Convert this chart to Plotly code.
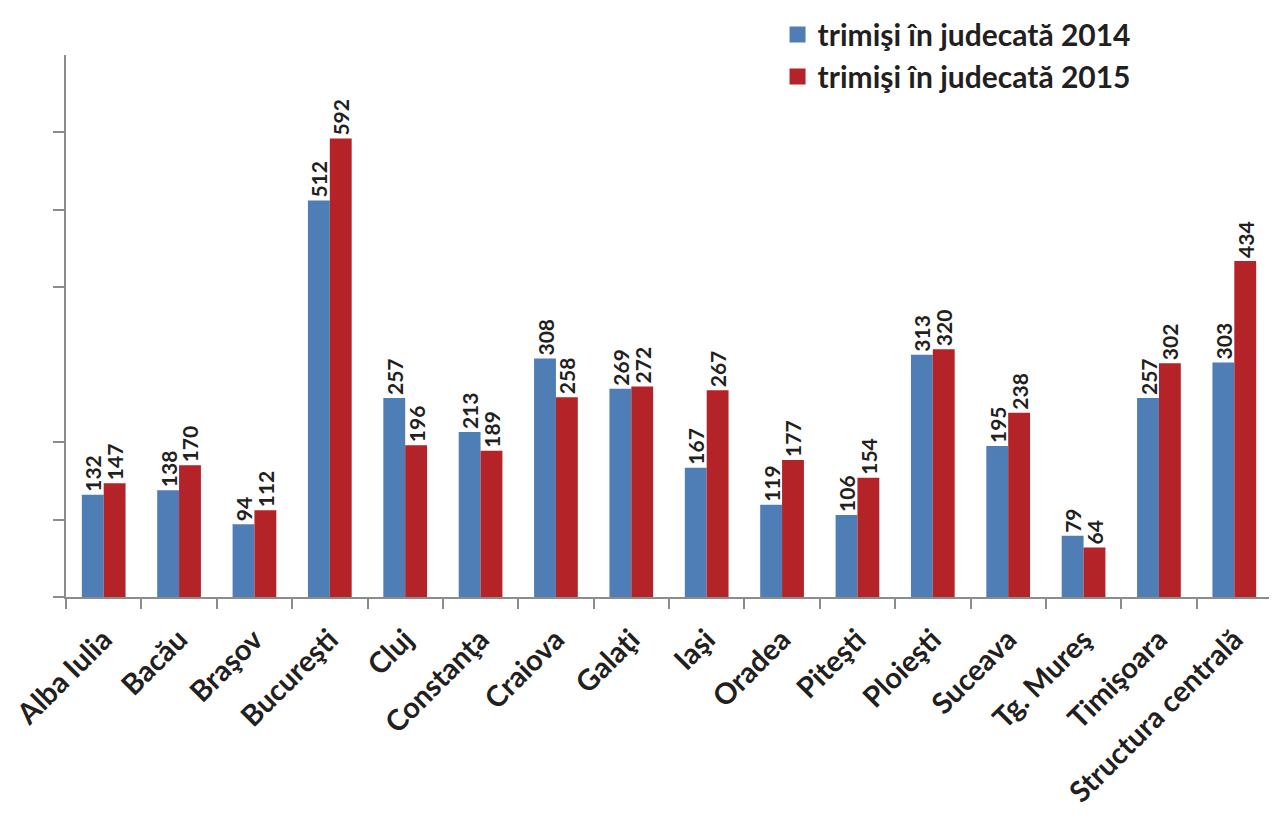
import plotly.graph_objects as go

categories = ["Alba Iulia", "Bacău", "Braşov", "Bucureşti", "Cluj", "Constanţa", "Craiova",
              "Galaţi", "Iaşi", "Oradea", "Piteşti", "Ploieşti", "Suceava", "Tg. Mureş",
              "Timişoara", "Structura centrală"]
values_2014 = [132, 138, 94, 512, 257, 213, 308, 269, 167, 119, 106, 313, 195, 79, 257, 303]
values_2015 = [147, 170, 112, 592, 196, 189, 258, 272, 267, 177, 154, 320, 238, 64, 302, 434]
series_names = ["trimişi în judecată 2014", "trimişi în judecată 2015"]
y_ticks = [0, 100, 200, 400, 500, 600]

FONT = "Lato"
TEXT = "#231f20"
COLORS = ["#4f7db5", "#b42328"]

fig = go.Figure()
for name, vals, color in [(series_names[0], values_2014, COLORS[0]),
                          (series_names[1], values_2015, COLORS[1])]:
    fig.add_trace(go.Bar(
        x=categories, y=vals, name=name, marker=dict(color=color, line=dict(width=0)),
        text=[str(v) for v in vals], textposition="outside", textangle=-90,
        textfont=dict(family=FONT, size=21, color=TEXT, weight="bold"),
        constraintext="none", cliponaxis=False, showlegend=False,
    ))
# legend entries with larger square symbols
for name, color in zip(series_names, COLORS):
    fig.add_trace(go.Scatter(
        x=[None], y=[None], mode="markers", name=name,
        marker=dict(symbol="square", size=20, color=color), showlegend=True,
    ))

# page body has an 8px default margin, so the figure is 8px smaller than the window
fig.update_layout(
    width=1269, height=810,
    barmode="group", bargap=0.42, bargroupgap=0,
    plot_bgcolor="white", paper_bgcolor="white",
    margin=dict(l=58, r=5, t=47, b=221, autoexpand=False),
    font=dict(family=FONT, color=TEXT),
    legend=dict(x=0.59, y=1.086, xanchor="left", yanchor="top",
                font=dict(family=FONT, size=30, color=TEXT, weight="bold"),
                bgcolor="rgba(0,0,0,0)", tracegroupgap=0, itemsizing="trace",
                itemwidth=30),
)
fig.update_xaxes(
    type="category", showline=True, linecolor="#8c8c8c", linewidth=2,
    ticks="outside", tickson="boundaries", ticklen=10, tickcolor="#8c8c8c", tickwidth=2,
    tickangle=-45, tickfont=dict(family=FONT, size=29, color=TEXT, weight="bold"),
    ticklabelstandoff=12, automargin=False,
    showgrid=False, zeroline=False,
)
fig.update_yaxes(
    range=[0, 700], showline=True, linecolor="#8c8c8c", linewidth=2,
    tickvals=y_ticks, ticktext=["" for _ in y_ticks], ticks="outside", ticklen=11,
    tickcolor="#8c8c8c", tickwidth=2, showgrid=False, zeroline=False, automargin=False,
)

fig.write_html("out.html")
